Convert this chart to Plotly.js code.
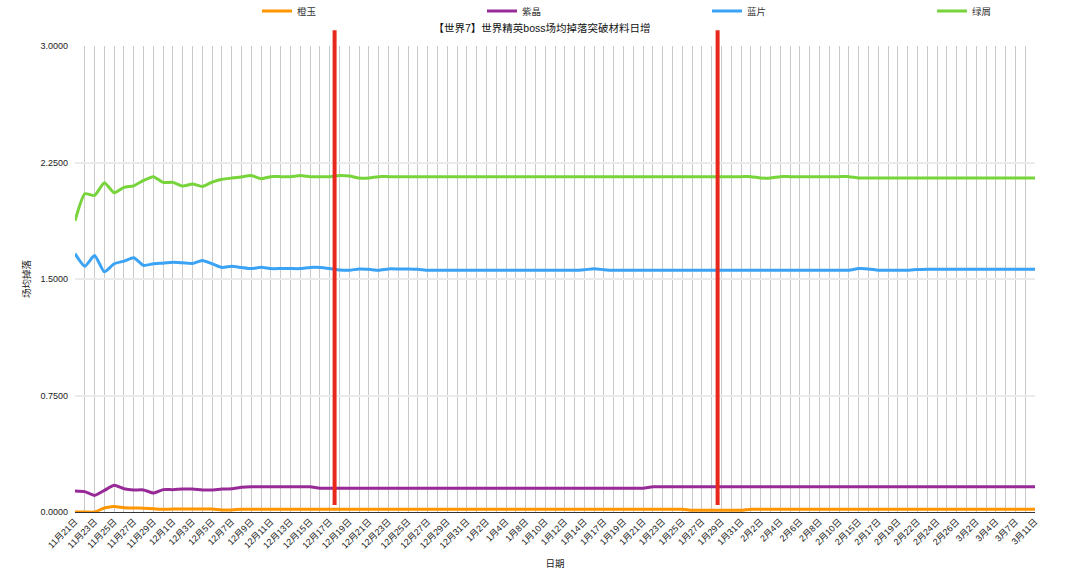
<!DOCTYPE html>
<html>
<head>
<meta charset="utf-8">
<script src="https://cdn.plot.ly/plotly-3.0.1.min.js"></script>
<style>html,body{margin:0;padding:0;background:#fff;}#chart{width:1084px;height:576px;}</style>
</head>
<body>
<div id="chart"></div>
<script>
const dates = [
"11月21日","11月22日","11月23日","11月24日","11月25日","11月26日","11月27日","11月28日","11月29日","11月30日",
"12月1日","12月2日","12月3日","12月4日","12月5日","12月6日","12月7日","12月8日","12月9日","12月10日",
"12月11日","12月12日","12月13日","12月14日","12月15日","12月16日","12月17日","12月18日","12月19日","12月20日",
"12月21日","12月22日","12月23日","12月24日","12月25日","12月26日","12月27日","12月28日","12月29日","12月30日",
"12月31日","1月1日","1月2日","1月3日","1月4日","1月6日","1月8日","1月9日","1月10日","1月11日",
"1月12日","1月13日","1月14日","1月16日","1月17日","1月18日","1月19日","1月20日","1月21日","1月22日",
"1月23日","1月24日","1月25日","1月26日","1月27日","1月28日","1月29日","1月30日","1月31日","2月1日",
"2月2日","2月3日","2月4日","2月5日","2月6日","2月7日","2月8日","2月9日","2月10日","2月12日",
"2月15日","2月16日","2月17日","2月18日","2月19日","2月21日","2月22日","2月23日","2月24日","2月25日",
"2月26日","2月28日","3月2日","3月3日","3月4日","3月6日","3月7日","3月9日","3月11日"
];

const orangeJade = [
0,0,0,0.026,0.036,0.028,0.026,0.024,0.021,0.017,
0.019,0.019,0.019,0.019,0.019,0.013,0.013,0.018,0.018,0.018,
0.018,0.018,0.018,0.018,0.018,0.018,0.018,0.018,0.018,0.018,
0.018,0.018,0.018,0.018,0.018,0.018,0.018,0.018,0.018,0.018,
0.018,0.018,0.018,0.018,0.018,0.018,0.018,0.018,0.018,0.018,
0.018,0.018,0.018,0.018,0.018,0.018,0.018,0.018,0.018,0.018,
0.018,0.018,0.018,0.011,0.011,0.011,0.011,0.011,0.011,0.018,
0.018,0.018,0.018,0.018,0.018,0.018,0.018,0.018,0.018,0.018,
0.018,0.018,0.018,0.018,0.018,0.018,0.018,0.018,0.018,0.018,
0.018,0.018,0.018,0.018,0.018,0.018,0.018,0.018,0.018
];

const purpleCrystal = [
0.135,0.131,0.107,0.139,0.172,0.150,0.142,0.142,0.122,0.144,
0.144,0.148,0.148,0.142,0.142,0.148,0.150,0.159,0.163,0.163,
0.163,0.163,0.163,0.163,0.163,0.153,0.153,0.153,0.153,0.153,
0.153,0.153,0.153,0.153,0.153,0.153,0.153,0.153,0.153,0.153,
0.153,0.153,0.153,0.153,0.153,0.153,0.153,0.153,0.153,0.153,
0.153,0.153,0.153,0.153,0.153,0.153,0.153,0.153,0.153,0.163,
0.163,0.163,0.163,0.163,0.163,0.163,0.163,0.163,0.163,0.163,
0.163,0.163,0.163,0.163,0.163,0.163,0.163,0.163,0.163,0.163,
0.163,0.163,0.163,0.163,0.163,0.163,0.163,0.163,0.163,0.163,
0.163,0.163,0.163,0.163,0.163,0.163,0.163,0.163,0.163
];

const blueShard = [
1.663,1.582,1.652,1.546,1.598,1.615,1.637,1.587,1.598,1.602,
1.608,1.604,1.600,1.619,1.598,1.574,1.582,1.574,1.567,1.576,
1.567,1.567,1.567,1.567,1.574,1.574,1.567,1.558,1.556,1.565,
1.562,1.556,1.565,1.565,1.565,1.563,1.556,1.556,1.556,1.556,
1.556,1.556,1.556,1.556,1.556,1.556,1.556,1.556,1.556,1.556,
1.556,1.556,1.560,1.566,1.560,1.556,1.556,1.556,1.556,1.556,
1.556,1.556,1.556,1.556,1.556,1.556,1.556,1.556,1.556,1.556,
1.556,1.556,1.556,1.556,1.556,1.556,1.556,1.556,1.556,1.556,
1.567,1.565,1.556,1.556,1.556,1.556,1.561,1.563,1.563,1.563,
1.563,1.563,1.563,1.563,1.563,1.563,1.563,1.563,1.563
];

const greenDust = [
1.875,2.049,2.038,2.120,2.055,2.090,2.100,2.135,2.159,2.122,
2.122,2.098,2.111,2.096,2.124,2.142,2.150,2.157,2.166,2.146,
2.159,2.159,2.159,2.166,2.159,2.159,2.159,2.166,2.163,2.150,
2.150,2.159,2.159,2.159,2.159,2.159,2.159,2.159,2.159,2.159,
2.159,2.159,2.159,2.159,2.159,2.159,2.159,2.159,2.159,2.159,
2.159,2.159,2.159,2.159,2.159,2.159,2.159,2.159,2.159,2.159,
2.159,2.159,2.159,2.159,2.159,2.159,2.159,2.159,2.159,2.159,
2.150,2.150,2.159,2.159,2.159,2.159,2.159,2.159,2.159,2.159,
2.150,2.150,2.150,2.150,2.150,2.150,2.150,2.150,2.150,2.150,
2.150,2.150,2.150,2.150,2.150,2.150,2.150,2.150,2.150
];

const seriesNames = ["橙玉","紫晶","蓝片","绿屑"];
const seriesColors = ["#FF9500","#982A98","#3AA3F5","#77D43A"];
const yTicks = [0, 0.75, 1.5, 2.25, 3];
// category positions of the red marker lines
const markerPositions = [26.5, 65.6];

const FONT = "Liberation Sans, Arial, Noto Sans CJK SC, sans-serif";
const seriesValues = [orangeJade, purpleCrystal, blueShard, greenDust];

const traces = seriesValues.map((vals, i) => ({
  type: "scatter",
  mode: "lines",
  name: seriesNames[i],
  x: dates,
  y: vals,
  line: {color: seriesColors[i], width: 3, shape: "spline", smoothing: 0.5},
  hoverinfo: "x+y+name"
}));

const tickText = dates.map((d, i) => (i % 2 === 0 ? d : ""));

const shapes = markerPositions.map(p => ({
  type: "line", xref: "x", yref: "paper",
  x0: p, x1: p, y0: 0.015, y1: 1.034,
  line: {color: "#E8281C", width: 4}, layer: "above"
}));

const layout = {
  width: 1084, height: 576,
  margin: {l: 75, r: 49, t: 46, b: 64, pad: 0},
  paper_bgcolor: "#ffffff", plot_bgcolor: "#ffffff",
  font: {family: FONT, size: 9, color: "#333333"},
  title: {
    text: "【世界7】世界精英boss场均掉落突破材料日增",
    font: {family: FONT, size: 10.5, color: "#111111"},
    x: 0.5, xanchor: "center", xref: "container",
    y: 1 - 28/576, yanchor: "middle", yref: "container"
  },
  showlegend: true,
  legend: {
    orientation: "h", xref: "container", yref: "container",
    x: 257/1084, xanchor: "left", y: 1 - 11/576, yanchor: "middle",
    entrywidth: 180, entrywidthmode: "pixels", itemwidth: 30,
    font: {family: FONT, size: 9.5, color: "#333333"},
    bgcolor: "rgba(0,0,0,0)"
  },
  xaxis: {
    type: "category",
    range: [0, dates.length - 1],
    tickmode: "array", tickvals: dates, ticktext: tickText,
    tickangle: -45,
    tickfont: {family: FONT, size: 9, color: "#222222"},
    showgrid: true, gridcolor: "#c9c9c9", gridwidth: 1,
    showline: true, linecolor: "#333333", linewidth: 1,
    ticks: "", zeroline: false, automargin: false,
    title: {text: "日期", font: {family: FONT, size: 9.5, color: "#222222"}, standoff: 10}
  },
  yaxis: {
    range: [0, 3],
    tickmode: "array", tickvals: yTicks, tickformat: ".4f",
    tickfont: {family: FONT, size: 9, color: "#222222"},
    ticklabelstandoff: 6,
    showgrid: true, gridcolor: "#ebebeb", gridwidth: 2,
    showline: false, zeroline: false, ticks: "", automargin: false,
    title: {text: "场均掉落", font: {family: FONT, size: 9.5, color: "#222222"}, standoff: 8}
  },
  shapes: shapes
};

Plotly.newPlot("chart", traces, layout, {displayModeBar: false, staticPlot: true});
</script>
</body>
</html>
